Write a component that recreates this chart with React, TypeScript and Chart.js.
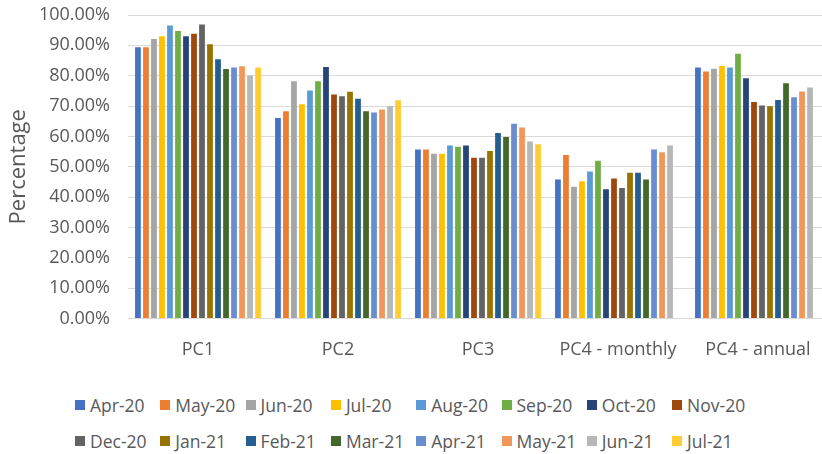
import React, { useEffect, useRef } from "react";
import { Chart, registerables } from "chart.js";

Chart.register(...registerables);

const categories = ["PC1", "PC2", "PC3", "PC4 - monthly", "PC4 - annual"];

const seriesNames = [
  "Apr-20", "May-20", "Jun-20", "Jul-20", "Aug-20", "Sep-20", "Oct-20", "Nov-20",
  "Dec-20", "Jan-21", "Feb-21", "Mar-21", "Apr-21", "May-21", "Jun-21", "Jul-21",
];

const seriesColors = [
  "#4472C4", "#ED7D31", "#A5A5A5", "#FFC000", "#5B9BD5", "#70AD47", "#264478", "#9E480E",
  "#636363", "#997300", "#255E91", "#43682B", "#698ED0", "#F1975A", "#B7B7B7", "#FFCD33",
];

// values per category, in series order
const pc1 = [89.4, 89.4, 92.1, 93.0, 96.5, 94.7, 93.0, 93.8, 96.9, 90.4, 85.4, 82.2, 82.7, 83.1, 80.0, 82.7];
const pc2 = [66.1, 68.3, 78.2, 70.6, 75.1, 78.2, 82.9, 73.8, 73.2, 74.7, 72.4, 68.3, 67.9, 68.9, 70.0, 71.9];
const pc3 = [55.7, 55.7, 54.3, 54.3, 57.0, 56.6, 57.0, 53.0, 53.0, 55.2, 61.1, 59.8, 64.2, 62.9, 58.3, 57.4];
const pc4Monthly = [45.8, 53.9, 43.4, 45.2, 48.4, 52.0, 42.6, 46.1, 43.0, 48.0, 48.0, 45.8, 55.7, 54.8, 57.0, null];
const pc4Annual = [82.7, 81.4, 82.3, 83.2, 82.7, 87.2, 79.2, 71.3, 70.2, 69.9, 72.0, 77.5, 72.9, 74.8, 76.1, null];

const yTicks = [0, 10, 20, 30, 40, 50, 60, 70, 80, 90, 100];

const FONT = "'Open Sans', 'Noto Sans', sans-serif";
const TEXT = "#595959";

export default function App() {
  const ref = useRef<HTMLCanvasElement | null>(null);

  useEffect(() => {
    if (!ref.current) return;
    const table = [pc1, pc2, pc3, pc4Monthly, pc4Annual];
    const datasets = seriesNames.map((name, i) => ({
      label: name,
      data: table.map((row) => row[i]),
      backgroundColor: seriesColors[i],
      borderWidth: 0,
      barPercentage: 0.72,
      categoryPercentage: 0.915,
    }));
    const chart = new Chart(ref.current, {
      type: "bar",
      data: { labels: categories, datasets },
      options: {
        animation: false,
        responsive: false,
        maintainAspectRatio: false,
        layout: { padding: { top: 15, right: 12, left: 0, bottom: 0 } },
        plugins: { legend: { display: false }, tooltip: { enabled: false } },
        scales: {
          x: {
            grid: { display: false },
            border: { display: true, color: "#D9D9D9" },
            ticks: { color: TEXT, font: { family: FONT, size: 18 }, padding: 13, maxRotation: 0 },
            afterFit: (s: any) => {
              s.height = 362 - 318.5;
              s.paddingLeft = 0;
              s.paddingRight = 0;
            },
          },
          y: {
            min: 0,
            max: 100,
            afterBuildTicks: (s: any) => {
              s.ticks = yTicks.map((v) => ({ value: v }));
            },
            grid: { color: "#D9D9D9", drawTicks: false },
            border: { display: false },
            ticks: {
              color: TEXT,
              font: { family: FONT, size: 18 },
              padding: 18,
              callback: (v: any) => Number(v).toFixed(2) + "%",
            },
            title: {
              display: true,
              text: "Percentage",
              color: TEXT,
              font: { family: FONT, size: 22 },
              padding: { top: 6, bottom: 0 },
            },
            afterFit: (s: any) => {
              s.width = 128;
              s.paddingTop = 0;
              s.paddingBottom = 0;
            },
          },
        },
      },
    });
    return () => chart.destroy();
  }, []);

  return (
    <div
      style={{
        position: "fixed",
        left: 0,
        top: 0,
        width: 822,
        height: 454,
        overflow: "hidden",
        background: "#fff",
        fontFamily: FONT,
      }}
    >
      <canvas ref={ref} width={840} height={362} style={{ position: "absolute", left: 0, top: 0, width: 840, height: 362 }} />
      {seriesNames.map((name, i) => {
        const col = i % 8;
        const row = Math.floor(i / 8);
        return (
          <div
            key={name}
            style={{
              position: "absolute",
              left: 75 + col * 85.3,
              top: (row === 0 ? 405 : 441) - 12,
              height: 24,
              display: "flex",
              alignItems: "center",
              whiteSpace: "nowrap",
              fontSize: 17.5,
              color: TEXT,
            }}
          >
            <span style={{ display: "inline-block", width: 10, height: 10, background: seriesColors[i], marginRight: 5 }} />
            <span>{name}</span>
          </div>
        );
      })}
    </div>
  );
}
